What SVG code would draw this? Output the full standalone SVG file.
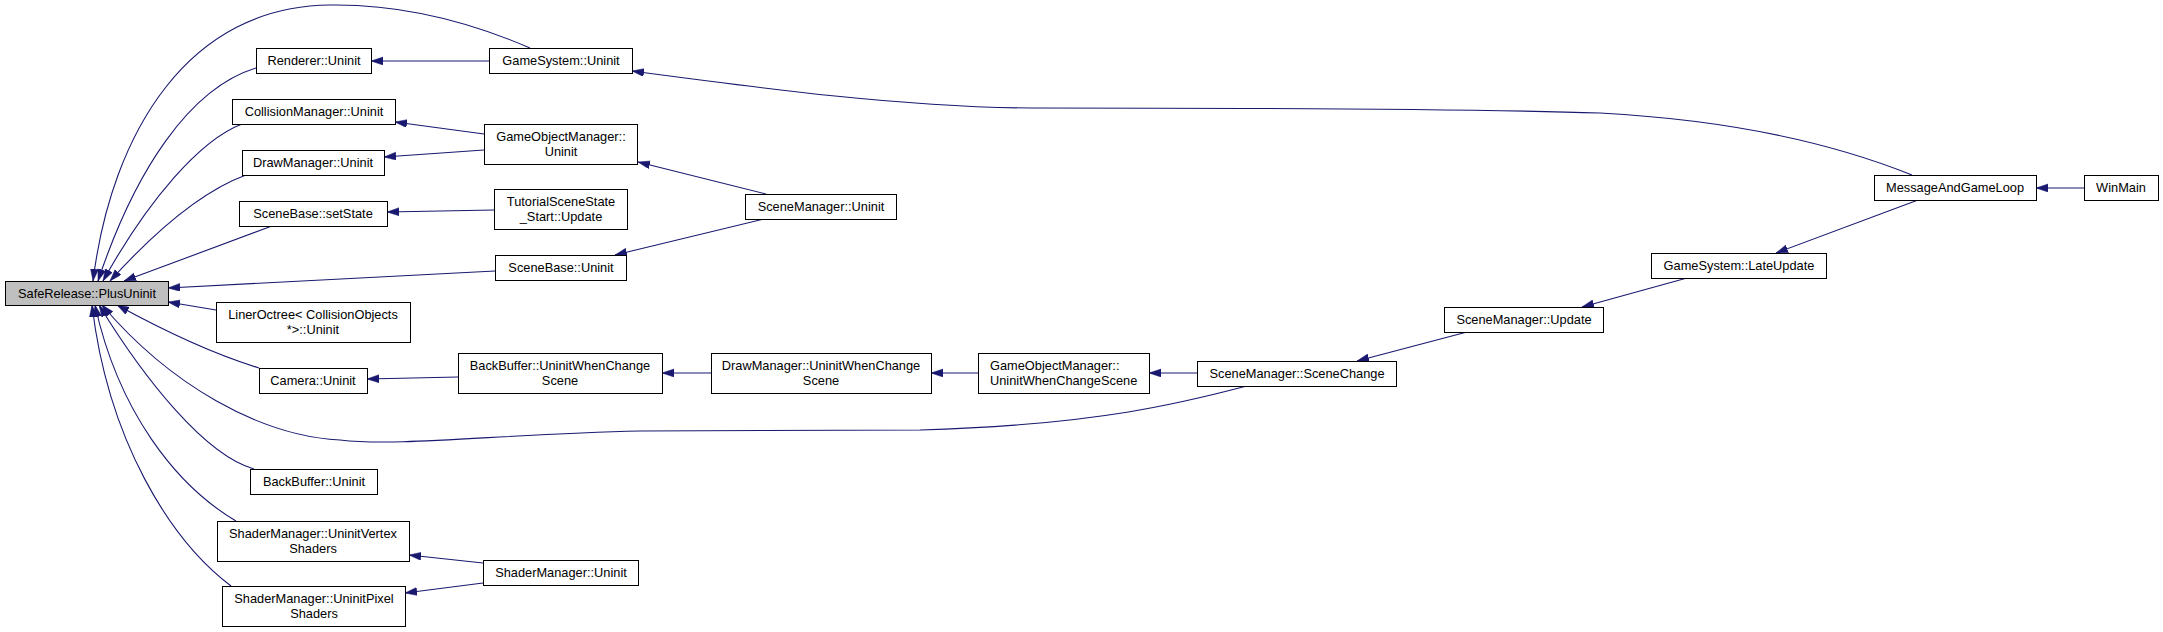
<svg xmlns="http://www.w3.org/2000/svg" width="2163" height="632" viewBox="0 0 2163 632">
<style>
.node rect{fill:#fff;stroke:#000;stroke-width:1}
.node.hl rect{fill:#bfbfbf}
.node text{font-family:"Liberation Sans",Arial,sans-serif;font-size:12.8px;text-anchor:middle;fill:#000}
.node text.l{text-anchor:start}
.edge{fill:none;stroke:#191970;stroke-width:1.1;marker-end:url(#arr)}
</style>
<defs>
<marker id="arr" markerUnits="userSpaceOnUse" markerWidth="13" markerHeight="9" refX="12" refY="4" orient="auto">
<path d="M0,0 L12,4 L0,8 z" fill="#191970" stroke="#191970" stroke-width="0.5"/>
</marker>
</defs>
<rect width="2163" height="632" fill="#fff"/>
<g id="edges">
<path class="edge" d="M530,48 C470,22 400,4 330,5 C190,6 112,130 93,281"/>
<path class="edge" d="M256,68 C190,88 135,170 98,281"/>
<path class="edge" d="M242,124 C200,140 148,200 103,281"/>
<path class="edge" d="M246,175 C205,190 158,228 110,281"/>
<path class="edge" d="M272,226 C225,243 175,262 124,281"/>
<path class="edge" d="M495,271 L168,288"/>
<path class="edge" d="M216,310 L168,302"/>
<path class="edge" d="M259,368 C220,356 168,333 117,305"/>
<path class="edge" d="M1247,386 C1190,401 1100,425 920,430 L640,431 C500,434 400,447 340,440 C260,436 170,385 102,305"/>
<path class="edge" d="M254,469 C205,455 145,380 99,305"/>
<path class="edge" d="M236,521 C175,485 118,410 95,305"/>
<path class="edge" d="M231,586 C170,540 108,440 92,305"/>
<path class="edge" d="M489,61 L371,61"/>
<path class="edge" d="M484,134 L395,122"/>
<path class="edge" d="M484,150 L384,157"/>
<path class="edge" d="M494,210 L387,212"/>
<path class="edge" d="M766,194 L638,162"/>
<path class="edge" d="M764,219 L615,255"/>
<path class="edge" d="M1912,175 C1830,142 1730,120 1600,113 C1450,108 1200,108 1030,108 C900,107 760,88 632,71"/>
<path class="edge" d="M458,377 L367,379"/>
<path class="edge" d="M711,373 L662,373"/>
<path class="edge" d="M978,373 L931,373"/>
<path class="edge" d="M1197,373 L1149,373"/>
<path class="edge" d="M1467,332 L1357,361"/>
<path class="edge" d="M1687,278 L1582,307"/>
<path class="edge" d="M1918,200 L1776,253"/>
<path class="edge" d="M2084,188 L2036,188"/>
<path class="edge" d="M483,563 L409,555"/>
<path class="edge" d="M483,583 L405,593"/>
</g>
<g id="n_saferelease" class="node hl"><rect x="5.5" y="281.5" width="163" height="24"/><text x="87" y="298">SafeRelease::PlusUninit</text></g>
<g id="n_renderer_uninit" class="node"><rect x="256.5" y="48.5" width="115" height="25"/><text x="314" y="65">Renderer::Uninit</text></g>
<g id="n_gamesystem_uninit" class="node"><rect x="489.5" y="48.5" width="143" height="25"/><text x="561" y="65">GameSystem::Uninit</text></g>
<g id="n_collision_uninit" class="node"><rect x="232.5" y="99.5" width="163" height="25"/><text x="314" y="116">CollisionManager::Uninit</text></g>
<g id="n_drawmanager_uninit" class="node"><rect x="242.5" y="150.5" width="142" height="25"/><text x="313" y="167">DrawManager::Uninit</text></g>
<g id="n_gom_uninit" class="node"><rect x="484.5" y="124.5" width="153" height="40"/><text x="561" y="141">GameObjectManager::</text><text x="561" y="156">Uninit</text></g>
<g id="n_scenebase_setstate" class="node"><rect x="239.5" y="201.5" width="148" height="25"/><text x="313" y="218">SceneBase::setState</text></g>
<g id="n_tutorial_update" class="node"><rect x="494.5" y="189.5" width="133" height="40"/><text x="561" y="206">TutorialSceneState</text><text x="561" y="221">_Start::Update</text></g>
<g id="n_scenebase_uninit" class="node"><rect x="495.5" y="255.5" width="131" height="25"/><text x="561" y="272">SceneBase::Uninit</text></g>
<g id="n_lineroctree_uninit" class="node"><rect x="216.5" y="302.5" width="194" height="40"/><text x="313" y="319">LinerOctree&lt; CollisionObjects</text><text x="313" y="334">*&gt;::Uninit</text></g>
<g id="n_camera_uninit" class="node"><rect x="259.5" y="368.5" width="108" height="25"/><text x="313" y="385">Camera::Uninit</text></g>
<g id="n_backbuffer_uwcs" class="node"><rect x="458.5" y="353.5" width="204" height="40"/><text x="560" y="370">BackBuffer::UninitWhenChange</text><text x="560" y="385">Scene</text></g>
<g id="n_drawmanager_uwcs" class="node"><rect x="711.5" y="353.5" width="220" height="40"/><text x="821" y="370">DrawManager::UninitWhenChange</text><text x="821" y="385">Scene</text></g>
<g id="n_gom_uwcs" class="node"><rect x="978.5" y="353.5" width="171" height="40"/><text class="l" x="990" y="370">GameObjectManager::</text><text class="l" x="990" y="385">UninitWhenChangeScene</text></g>
<g id="n_scenemanager_scenechange" class="node"><rect x="1197.5" y="361.5" width="199" height="25"/><text x="1297" y="378">SceneManager::SceneChange</text></g>
<g id="n_scenemanager_uninit" class="node"><rect x="745.5" y="194.5" width="151" height="25"/><text x="821" y="211">SceneManager::Uninit</text></g>
<g id="n_backbuffer_uninit" class="node"><rect x="250.5" y="469.5" width="127" height="25"/><text x="314" y="486">BackBuffer::Uninit</text></g>
<g id="n_shader_vertex" class="node"><rect x="217.5" y="521.5" width="192" height="40"/><text x="313" y="538">ShaderManager::UninitVertex</text><text x="313" y="553">Shaders</text></g>
<g id="n_shader_uninit" class="node"><rect x="483.5" y="560.5" width="155" height="25"/><text x="561" y="577">ShaderManager::Uninit</text></g>
<g id="n_shader_pixel" class="node"><rect x="222.5" y="586.5" width="183" height="40"/><text x="314" y="603">ShaderManager::UninitPixel</text><text x="314" y="618">Shaders</text></g>
<g id="n_scenemanager_update" class="node"><rect x="1444.5" y="307.5" width="159" height="25"/><text x="1524" y="324">SceneManager::Update</text></g>
<g id="n_gamesystem_lateupdate" class="node"><rect x="1651.5" y="253.5" width="175" height="25"/><text x="1739" y="270">GameSystem::LateUpdate</text></g>
<g id="n_messageandgameloop" class="node"><rect x="1874.5" y="175.5" width="162" height="25"/><text x="1955" y="192">MessageAndGameLoop</text></g>
<g id="n_winmain" class="node"><rect x="2084.5" y="175.5" width="74" height="25"/><text x="2121" y="192">WinMain</text></g>
</svg>
